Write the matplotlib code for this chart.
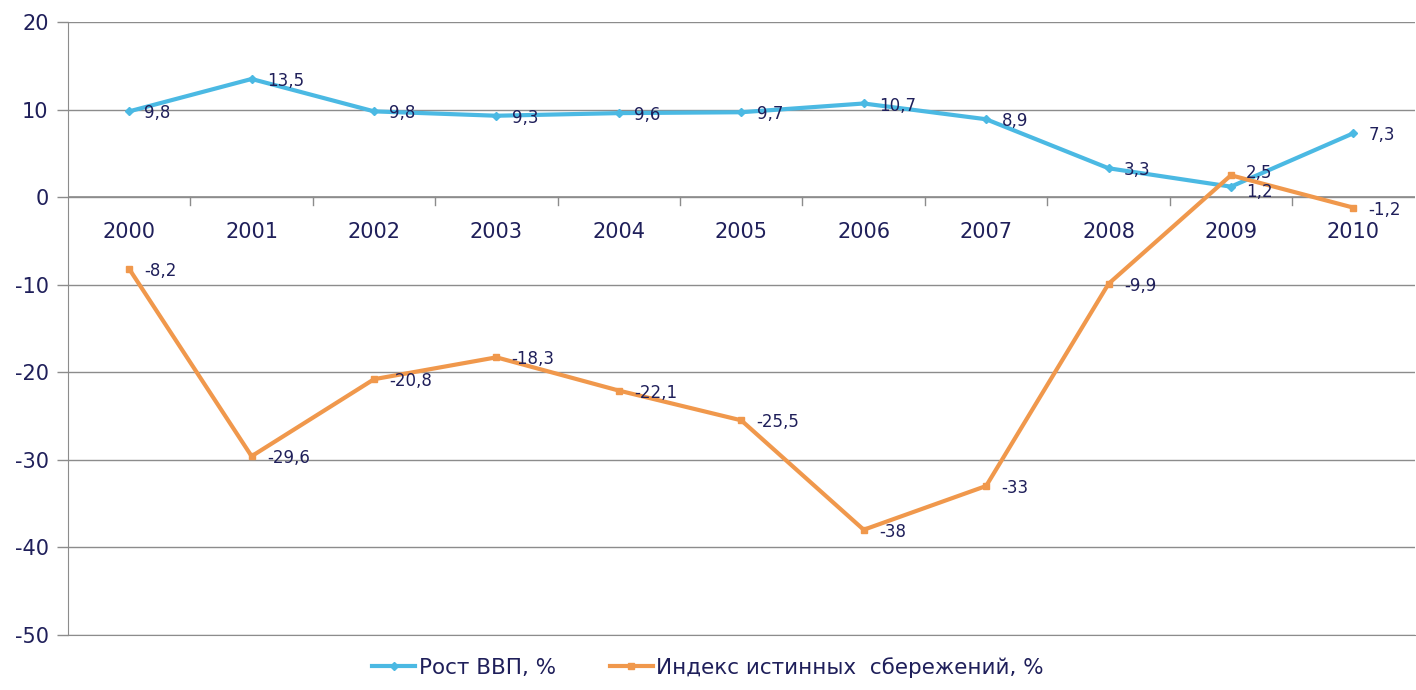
import matplotlib.pyplot as plt
import numpy as np

plt.rcParams['axes.unicode_minus'] = False

# Data
years = ['2000', '2001', '2002', '2003', '2004', '2005', '2006', '2007', '2008', '2009', '2010']
gdp_growth = [9.8, 13.5, 9.8, 9.3, 9.6, 9.7, 10.7, 8.9, 3.3, 1.2, 7.3]
savings_index = [-8.2, -29.6, -20.8, -18.3, -22.1, -25.5, -38, -33, -9.9, 2.5, -1.2]

blue = '#4BB9E3'
orange = '#F0984C'
text_col = '#1F1F5A'
grid_col = '#8C8C8C'

fig = plt.figure(figsize=(14.16, 6.9), dpi=100)
ax = fig.add_axes([0.048, 0.080, 0.951, 0.888])

x = np.arange(len(years))
ax.plot(x, gdp_growth, color=blue, lw=3, marker='D', ms=4, label='Рост ВВП, %', zorder=3)
ax.plot(x, savings_index, color=orange, lw=3, marker='s', ms=5,
        label='Индекс истинных  сбережений, %', zorder=3)


def fmt(v):
    return ('%g' % v).replace('.', ',')


# 2009 labels sit very close together, nudge them apart a little
for xi, v in zip(x, gdp_growth):
    dy = -4 if years[xi] == '2009' else -1.5
    ax.annotate(fmt(v), (xi, v), xytext=(11, dy), textcoords='offset points',
                va='center', ha='left', fontsize=12, color=text_col, zorder=4)
for xi, v in zip(x, savings_index):
    dy = 1.5 if years[xi] == '2009' else -1.5
    ax.annotate(fmt(v), (xi, v), xytext=(11, dy), textcoords='offset points',
                va='center', ha='left', fontsize=12, color=text_col, zorder=4)

ax.set_xlim(-0.5, 10.5)
ax.set_ylim(-50, 20)
ax.set_yticks(range(-50, 21, 10))
ax.yaxis.grid(True, color=grid_col, lw=1)
ax.set_axisbelow(True)

for s in ['top', 'right']:
    ax.spines[s].set_visible(False)
ax.spines['left'].set_color(grid_col)
ax.spines['bottom'].set_color(grid_col)
ax.tick_params(axis='y', colors=grid_col, labelcolor=text_col, labelsize=15,
               length=8, width=1, pad=6)

# category axis at zero
ax.axhline(0, color=grid_col, lw=1.2, zorder=2)
ax.set_xticks(x)
ax.set_xticklabels([])
ax.tick_params(axis='x', length=0)
for b in np.arange(0.5, 10.5, 1):
    ax.plot([b, b], [0, -0.9], color=grid_col, lw=1, zorder=2)
for xi, yl in zip(x, years):
    ax.text(xi, -2.8, yl, ha='center', va='top', fontsize=15, color=text_col)

leg = fig.legend(loc='lower center', bbox_to_anchor=(0.5, -0.01), ncol=2, frameon=False,
                 fontsize=15.5, handlelength=2.0, handletextpad=0.15, columnspacing=2.5)
for t in leg.get_texts():
    t.set_color(text_col)

fig.savefig('out.png', dpi=100)
